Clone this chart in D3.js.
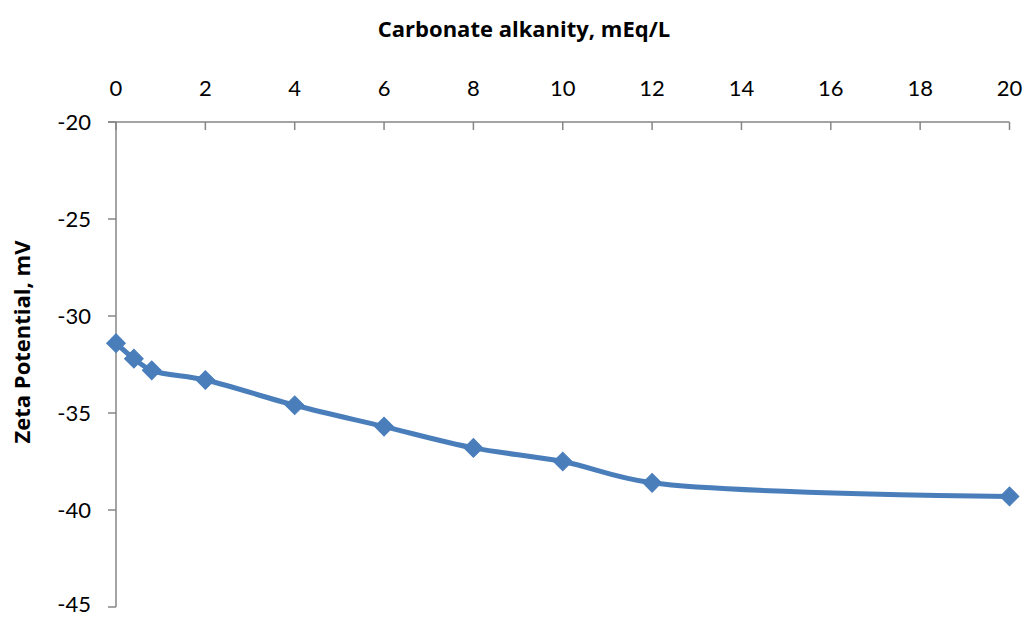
<!DOCTYPE html>
<html><head><meta charset="utf-8">
<script src="https://cdn.jsdelivr.net/npm/d3@7"></script>
<style>body{margin:0;background:#fff}svg{display:block}text{font-family:Lato,"Open Sans",sans-serif}text.ttl{font-family:"Open Sans",sans-serif}</style>
</head><body>
<svg id="c" width="1027" height="618"></svg>
<script>
const xValues = [0, 0.4, 0.8, 2, 4, 6, 8, 10, 12, 20];
const zetaValues = [-31.4, -32.2, -32.8, -33.3, -34.6, -35.7, -36.8, -37.5, -38.6, -39.3];
const xTicks = [0, 2, 4, 6, 8, 10, 12, 14, 16, 18, 20];
const yTicks = [-20, -25, -30, -35, -40, -45];
const xTitle = "Carbonate alkanity, mEq/L";
const yTitle = "Zeta Potential, mV";

const svg = d3.select("#c");
const x = d3.scaleLinear().domain([0, 20]).range([116, 1009.5]);
const y = d3.scaleLinear().domain([-20, -45]).range([122, 607]);
const axisColor = "#868686";

// x axis (top)
const gx = svg.append("g");
gx.append("line").attr("x1", 108).attr("x2", x(20)).attr("y1", y(-20)).attr("y2", y(-20))
  .attr("stroke", axisColor).attr("stroke-width", 1.5);
gx.selectAll("line.t").data(xTicks).join("line").attr("class","t")
  .attr("x1", d => x(d)).attr("x2", d => x(d)).attr("y1", y(-20)).attr("y2", y(-20) + 8)
  .attr("stroke", axisColor).attr("stroke-width", 1.5);
gx.selectAll("text").data(xTicks).join("text")
  .attr("x", d => x(d)).attr("y", 96).attr("text-anchor", "middle")
  .attr("font-size", 22).attr("fill", "#000").text(d => d);

// y axis
const gy = svg.append("g");
gy.append("line").attr("x1", x(0)).attr("x2", x(0)).attr("y1", y(-20)).attr("y2", y(-45))
  .attr("stroke", axisColor).attr("stroke-width", 1.5);
gy.selectAll("line.t").data(yTicks).join("line").attr("class","t")
  .attr("x1", x(0) - 8).attr("x2", x(0)).attr("y1", d => y(d)).attr("y2", d => y(d))
  .attr("stroke", axisColor).attr("stroke-width", 1.5);
gy.selectAll("text").data(yTicks).join("text")
  .attr("x", 91).attr("y", d => Math.min(y(d) + 8, 612)).attr("text-anchor", "end")
  .attr("font-size", 22).attr("fill", "#000").text(d => d);

// titles
svg.append("text").attr("class", "ttl").attr("x", 524).attr("y", 37).attr("text-anchor", "middle")
  .attr("font-size", 22).attr("font-weight", "bold").text(xTitle);
svg.append("text").attr("class", "ttl").attr("transform", "translate(30,342) rotate(-90)").attr("text-anchor", "middle")
  .attr("font-size", 22).attr("font-weight", "bold").text(yTitle);

const data = xValues.map((v, i) => [v, zetaValues[i]]);
const line = d3.line().x(d => x(d[0])).y(d => y(d[1])).curve(d3.curveCatmullRom.alpha(0.5));
svg.append("path").attr("d", line(data)).attr("fill", "none")
  .attr("stroke", "#4a7ebb").attr("stroke-width", 5).attr("stroke-linejoin", "round");

svg.selectAll("path.m").data(data).join("path").attr("class", "m")
  .attr("d", d3.symbol(d3.symbolSquare, 175)())
  .attr("transform", d => `translate(${x(d[0])},${y(d[1])}) rotate(45)`)
  .attr("fill", "#4a7ebb").attr("stroke", "#4a7ebb").attr("stroke-width", 1);
</script>
</body></html>
